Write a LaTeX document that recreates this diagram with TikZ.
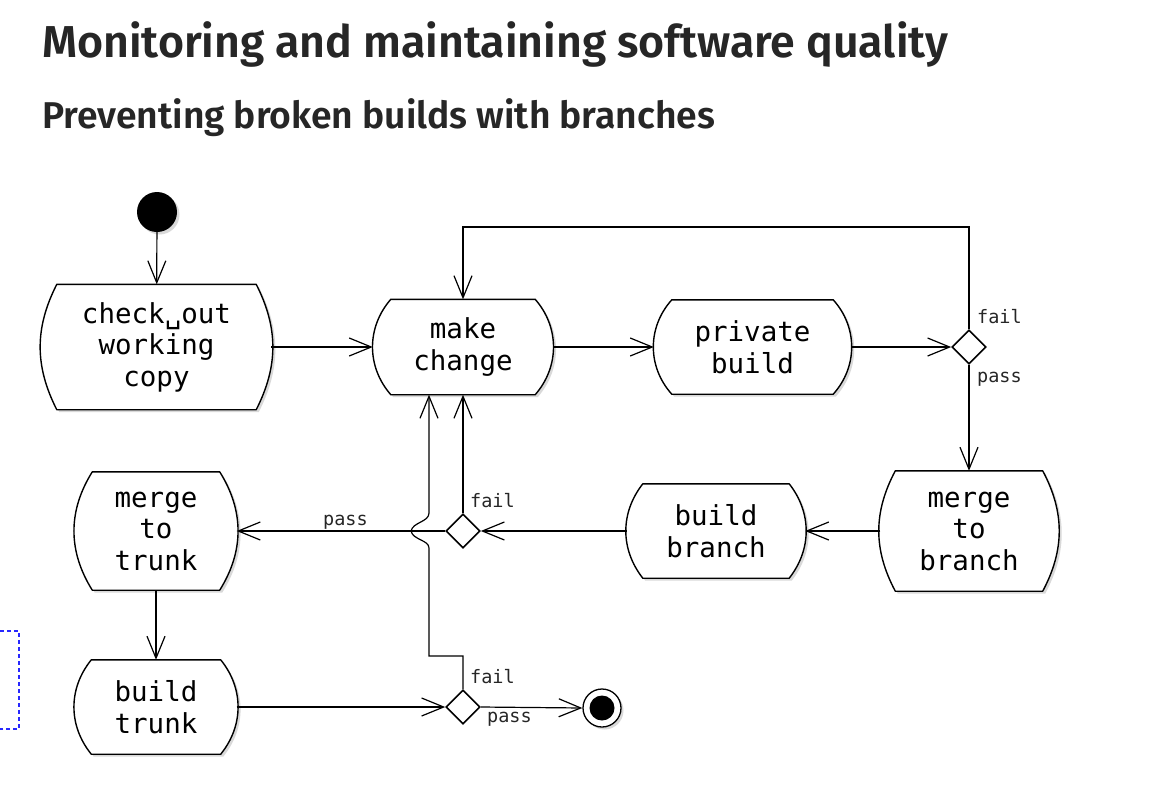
\documentclass[tikz,border=0pt]{standalone}
\usepackage{fontspec}
\setmainfont{Fira Sans}
\newfontfamily\titlefont{Fira Sans SemiBold}
\newfontfamily\monofont{DejaVu Sans Mono}
\usetikzlibrary{arrows.meta,shapes.geometric,backgrounds}
\definecolor{dashblue}{RGB}{40,40,255}
\begin{document}
\begin{tikzpicture}[x=1pt,y=-1pt,
  act/.style={inner sep=0pt, align=center, font=\monofont\fontsize{27.5}{31.5}\selectfont},
  dec/.style={diamond, draw, line width=1.6pt, inner sep=0pt, minimum width=34pt, minimum height=34pt, fill=white},
  arr/.style={line width=1.2pt, -{Straight Barb[length=22pt,width=18pt,line width=1.2pt]}},
  lab/.style={font=\monofont\fontsize{18.5}{20}\selectfont, anchor=base west, inner sep=0pt, text=black!85},
  ttl/.style={anchor=base west, inner sep=0pt, text=black!85},
]
\useasboundingbox (0,0) rectangle (1160,796);

\node[ttl] (title) at (42,57) {\resizebox{906pt}{!}{\titlefont\fontsize{44}{50}\selectfont Monitoring and maintaining software quality}};
\node[ttl] (subtitle) at (42,128) {\resizebox{673pt}{!}{\titlefont\fontsize{34}{40}\selectfont Preventing broken builds with branches}};

% action nodes
\node[act, minimum width=229pt, minimum height=125pt] (checkout) at (156.5,347) {check␣out\\working\\copy};
\node[act, minimum width=180pt, minimum height=95pt] (make) at (463,347) {make\\change};
\node[act, minimum width=197pt, minimum height=94pt] (private) at (752.5,347) {private\\build};
\node[act, minimum width=177pt, minimum height=120pt] (mbranch) at (969,531) {merge\\to\\branch};
\node[act, minimum width=178pt, minimum height=94pt] (bbranch) at (716,531) {build\\branch};
\node[act, minimum width=161pt, minimum height=118pt] (mtrunk) at (156,531) {merge\\to\\trunk};
\node[act, minimum width=161pt, minimum height=94pt] (btrunk) at (156,707) {build\\trunk};

\begin{pgfonlayer}{background}
\fill[white] (0,0) rectangle (1160,796);
\foreach \n/\b/\a in {checkout/15/27, make/18/41, private/18/42, mbranch/15/28, bbranch/16/38, mtrunk/17/32, btrunk/16/39}{
  \fill[gray!30, transform canvas={xshift=2.5pt,yshift=-2.5pt}]
    ([xshift=\b pt]\n.north west) -- ([xshift=-\b pt]\n.north east)
    to[bend left=\a] ([xshift=-\b pt]\n.south east) -- ([xshift=\b pt]\n.south west)
    to[bend left=\a] ([xshift=\b pt]\n.north west) -- cycle;
  \draw[line width=1.4pt, fill=white, line join=round]
    ([xshift=\b pt]\n.north west) -- ([xshift=-\b pt]\n.north east)
    to[bend left=\a] ([xshift=-\b pt]\n.south east) -- ([xshift=\b pt]\n.south west)
    to[bend left=\a] ([xshift=\b pt]\n.north west) -- cycle;
}
\end{pgfonlayer}

% initial and final
\fill[gray!30] (159.5,214.5) circle (20pt);
\node[circle, fill=black, minimum size=40pt, inner sep=0pt] (start) at (157,212) {};
\fill[gray!30] (604.5,710.5) circle (19pt);
\node[circle, draw, line width=1.3pt, fill=white, minimum size=38pt, inner sep=0pt] (end) at (602,708) {};
\fill[black] (end.center) circle (12.5pt);

% decisions
\node[dec] (d1) at (969,347) {};
\node[dec] (d2) at (463,531) {};
\node[dec] (d3) at (463,707) {};

% helper coordinates
\coordinate (looptop) at (700,227);
\coordinate (jb) at (429,656);
\coordinate (jlo) at (429,548);
\coordinate (jmid) at (411,531);
\coordinate (jhi) at (429,513);

% connectors
\draw[arr] (start) -- (checkout);
\draw[arr] (checkout.east) -- (make.west);
\draw[arr] (make.east) -- (private.west);
\draw[arr] (private.east) -- (d1.west);
\draw[arr] (d1.north) |- (looptop) -| (make.north);
\draw[arr] (d1.south) -- (mbranch.north);
\draw[arr] (mbranch.west) -- (bbranch.east);
\draw[arr] (bbranch.west) -- (d2.east);
\draw[arr] (d2.north) -- (make.south);
\draw[arr] (d2.west) -- (mtrunk.east);
\draw[arr] (mtrunk.south) -- (btrunk.north);
\draw[arr] (btrunk.east) -- (d3.west);
\draw[arr] (d3.east) -- (end.west);
\draw[arr] (d3.north) |- (jb) -- (jlo)
  .. controls (429,540) and (413,540) .. (jmid)
  .. controls (413,522) and (429,522) .. (jhi) -- (make.south -| jhi);

% labels
\node[lab] (l1f) at (977,323) {fail};
\node[lab] (l1p) at (977,382) {pass};
\node[lab] (l2f) at (470,507) {fail};
\node[lab] (l2p) at (323,525) {pass};
\node[lab] (l3f) at (470,683) {fail};
\node[lab] (l3p) at (487,722) {pass};

% dashed box at left edge
\draw[dashblue, line width=1.2pt, dash pattern=on 4pt off 3pt]
  (0,631) -- (19,631) -- (19,729) -- (0,729);
\end{tikzpicture}
\end{document}
